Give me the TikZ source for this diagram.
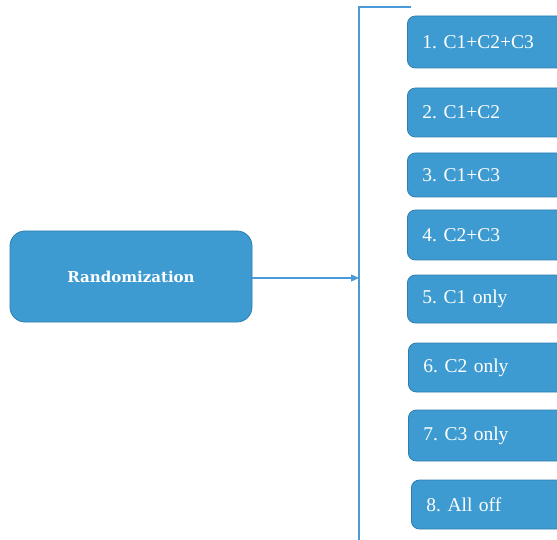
\documentclass[tikz,border=0pt]{standalone}
\usepackage{fontspec}
\setmainfont{Liberation Serif}
\newfontfamily\randfont{DejaVu Serif}
\usepackage{tikz}
\usetikzlibrary{arrows.meta, calc}
\usepackage{xcolor}
\definecolor{boxblue}{HTML}{3D9BD1}
\definecolor{boxedge}{HTML}{2F7DAF}
\definecolor{linkblue}{HTML}{4A9AD8}
\frenchspacing

\begin{document}
\begin{tikzpicture}[x=1pt, y=-1pt, >={Triangle[length=8pt, width=7pt]},
                    arm/.style={draw=boxedge, line width=0.8pt, fill=boxblue, rounded corners=8pt, anchor=west, text width=170pt, inner xsep=15pt, align=left, text=white, font=\fontsize{19.5}{22}\selectfont},
                    link/.style={draw=linkblue, line width=1.3pt}]

                      % frame of the picture
                      \useasboundingbox (0,0) rectangle (557,540);
                      \clip (0,0) rectangle (557,540);

                      % randomization
                      \node[draw=boxedge, line width=0.8pt, fill=boxblue, rounded corners=15pt, minimum width=242pt, minimum height=91pt, text=white, font=\randfont\bfseries\fontsize{15}{18}\selectfont] (rand) at (131,276.5) {Randomization};

                      % bracket
                      \coordinate (btop) at (359,7);
                      \coordinate (btopend) at (411,7);
                      \coordinate (bbottom) at (359,545);
                      \coordinate (split) at (359,278);
                      \draw[link] (btopend) -- (btop) -- (bbottom);
                      \draw[link, ->, fill=linkblue] (rand.east |- split) -- (split);

                      % arms
                      \node[arm, minimum height=52pt] (arm1) at (407,42) {1. C1+C2+C3};
                      \node[arm, minimum height=49pt] (arm2) at (407,112.5) {2. C1+C2};
                      \node[arm, minimum height=44pt] (arm3) at (407,175) {3. C1+C3};
                      \node[arm, minimum height=50pt] (arm4) at (407,235) {4. C2+C3};
                      \node[arm, minimum height=48pt] (arm5) at (407,299) {5. C1 only};
                      \node[arm, minimum height=49pt] (arm6) at (408,367.5) {6. C2 only};
                      \node[arm, minimum height=51pt] (arm7) at (408,435.5) {7. C3 only};
                      \node[arm, minimum height=49pt] (arm8) at (411,504.5) {8. All off};

                    \end{tikzpicture}
\end{document}
